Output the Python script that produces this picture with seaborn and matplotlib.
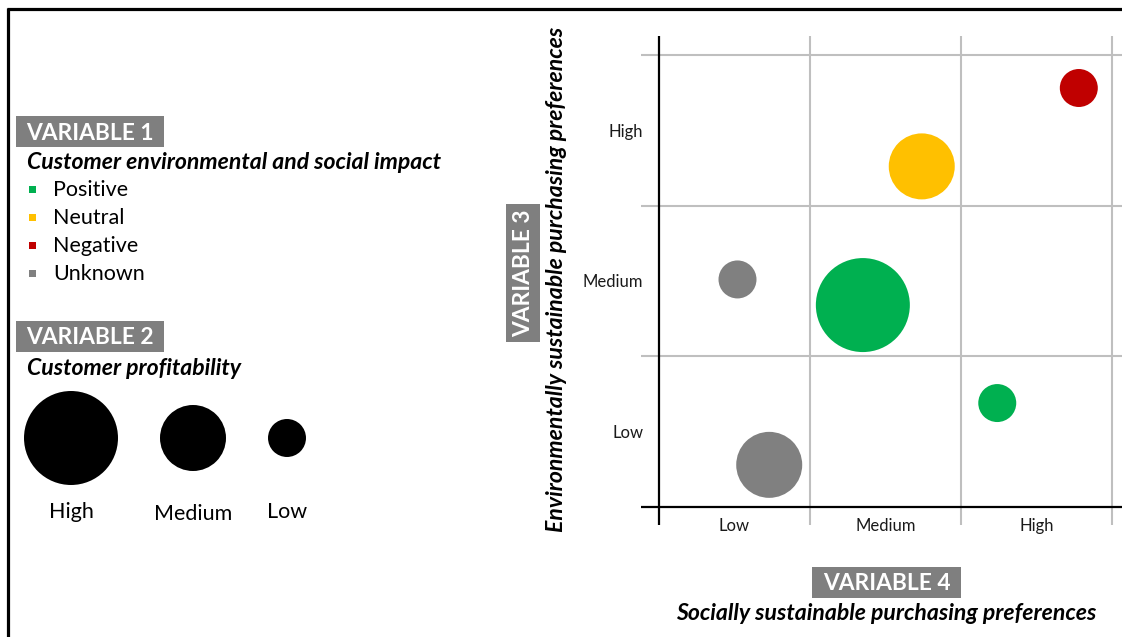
import matplotlib
matplotlib.use("Agg")
import matplotlib.pyplot as plt
from matplotlib.patches import Rectangle
import pandas as pd
import seaborn as sns

sns.set_style("white")
plt.rcParams["font.family"] = ["Lato", "DejaVu Sans"]
plt.rcParams["text.color"] = "black"

# ---- data -------------------------------------------------------------
levels = ["Low", "Medium", "High"]
impact_labels = ["Positive", "Neutral", "Negative", "Unknown"]
impact_colors = ["#00B050", "#FFC000", "#C00000", "#808080"]
profit_labels = ["High", "Medium", "Low"]

# customers: social preference (x), environmental preference (y)
social_pref = [2.78, 1.74, 0.52, 1.35, 2.24, 0.73]
environ_pref = [2.78, 2.26, 1.51, 1.34, 0.69, 0.28]
impact = ["Negative", "Neutral", "Unknown", "Positive", "Positive", "Unknown"]
profitability = ["Low", "Medium", "Low", "High", "Low", "Medium"]

# ---- styling ----------------------------------------------------------
W, H, DPI = 1122, 637, 100
palette = dict(zip(impact_labels, impact_colors))
# marker areas (pt^2) for each profitability level
bubble_area = {"High": 4580, "Medium": 2258, "Low": 748}
BOX_GREY = "#7F7F7F"
GRID_GREY = "#BFBFBF"
TITLE_FS = 16.6
BODY_FS = 15.5
HEAD_FS = 16.4

fig = plt.figure(figsize=(W / DPI, H / DPI), dpi=DPI)

# full-figure layer in pixel units for the key and titles
ov = fig.add_axes([0, 0, 1, 1])

# frame lines
ov.plot([8.5, 8.5], [8, H], color="black", lw=2.3, solid_capstyle="butt")
ov.plot([7.5, W], [8.5, 8.5], color="black", lw=2.3, solid_capstyle="butt")


def header(x0, y0, x1, y1, label, rotate=False):
    ov.add_patch(Rectangle((x0, y0), x1 - x0, y1 - y0, color=BOX_GREY, lw=0))
    ov.text((x0 + x1) / 2 + (1 if rotate else 0),
            (y0 + y1) / 2 + (0 if rotate else 1.5), label,
            color="white", fontsize=HEAD_FS, fontweight="bold",
            ha="center", va="center", rotation=90 if rotate else 0)


# Variable 1: environmental and social impact (colour)
header(16, 116, 164, 147, "VARIABLE 1")
ov.text(27, 162.5, "Customer environmental and social impact", fontsize=TITLE_FS,
        fontweight="bold", fontstyle="italic", ha="left", va="center")
for i, (lab, col) in enumerate(zip(impact_labels, impact_colors)):
    yy = 190.5 + 28 * i
    ov.add_patch(Rectangle((29, yy - 5), 7, 7, color=col, lw=0))
    ov.text(53, yy, lab, fontsize=BODY_FS, ha="left", va="center")

# Variable 2: profitability (bubble size)
header(16, 321, 164, 352, "VARIABLE 2")
ov.text(27, 368.5, "Customer profitability", fontsize=TITLE_FS,
        fontweight="bold", fontstyle="italic", ha="left", va="center")
key_x = [71, 193, 287]
key = pd.DataFrame({"x": key_x, "y": [438] * 3, "profit": profit_labels})
sns.scatterplot(data=key, x="x", y="y", size="profit", sizes=bubble_area,
                color="black", linewidth=0, legend=False, ax=ov)
for x, lab, yy in zip(key_x, profit_labels, [511.5, 513.5, 511.5]):
    ov.text(x, yy, lab, fontsize=BODY_FS, ha="center", va="center")

# Variable 3 / Variable 4 titles
header(506, 204, 540, 342, "VARIABLE 3", rotate=True)
ov.text(556.5, 279, "Environmentally sustainable purchasing preferences",
        fontsize=TITLE_FS, fontweight="bold", fontstyle="italic",
        ha="center", va="center", rotation=90)
header(812, 567, 961, 598, "VARIABLE 4")
ov.text(886, 613, "Socially sustainable purchasing preferences",
        fontsize=TITLE_FS, fontweight="bold", fontstyle="italic",
        ha="center", va="center")

ov.set_xlim(0, W)
ov.set_ylim(H, 0)
ov.axis("off")

# ---- bubble matrix ----------------------------------------------------
ax = fig.add_axes([641 / W, 112 / H, 481 / W, 489 / H])
ax.set_facecolor("none")
ax.set_xlim(-0.119, 3.066)
ax.set_ylim(-0.119, 3.125)
for s in ax.spines.values():
    s.set_visible(False)

for g in [1, 2, 3]:
    ax.axhline(g, color=GRID_GREY, lw=1.5, zorder=1)
    ax.axvline(g, color=GRID_GREY, lw=1.5, zorder=1)
ax.axhline(0, color="black", lw=1.6, zorder=2)
ax.axvline(0, color="black", lw=1.6, zorder=2)

df = pd.DataFrame({"social": social_pref, "environ": environ_pref,
                   "impact": impact, "profit": profitability})
sns.scatterplot(data=df, x="social", y="environ", hue="impact",
                palette=palette, size="profit", sizes=bubble_area,
                linewidth=0, legend=False, ax=ax, zorder=3, alpha=1)

ax.set_xticks([0.5, 1.5, 2.5], levels)
ax.set_yticks([0.5, 1.5, 2.5], levels)
ax.set_xlabel("")
ax.set_ylabel("")
ax.tick_params(length=0, labelsize=12, colors="#1a1a1a")
ax.tick_params(axis="x", pad=-5)
ax.tick_params(axis="y", pad=-1.5)

fig.savefig("out.png", dpi=DPI)
